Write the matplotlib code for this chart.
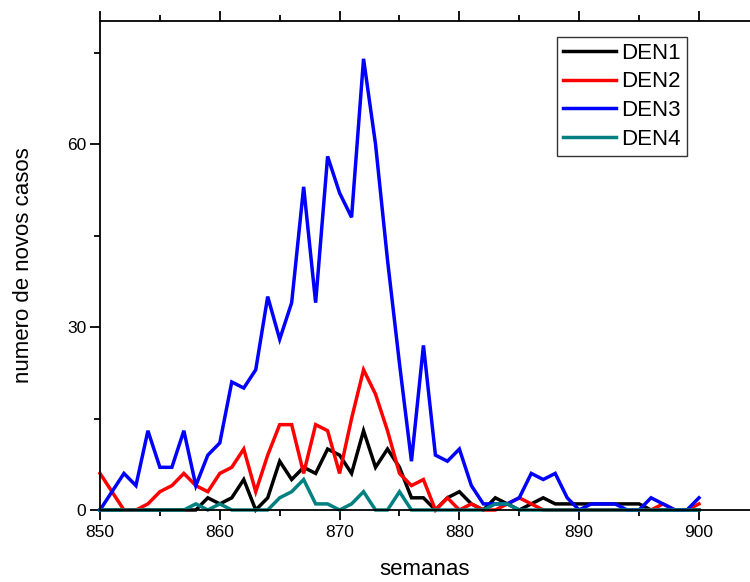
import matplotlib
matplotlib.use("Agg")
import matplotlib.pyplot as plt
from matplotlib.ticker import MultipleLocator

plt.rcParams['font.family'] = ['Liberation Sans', 'DejaVu Sans']

semanas = list(range(850, 901))

den1 = [0, 0, 0, 0, 0, 0, 0, 0, 0, 2,
        1, 2, 5, 0, 2, 8, 5, 7, 6, 10,
        9, 6, 13, 7, 10, 7, 2, 2, 0, 2,
        3, 1, 0, 2, 1, 0, 1, 2, 1, 1,
        1, 1, 1, 1, 1, 1, 0, 0, 0, 0,
        0]
den2 = [6, 3, 0, 0, 1, 3, 4, 6, 4, 3,
        6, 7, 10, 3, 9, 14, 14, 6, 14, 13,
        6, 15, 23, 19, 13, 6, 4, 5, 0, 2,
        0, 1, 0, 0, 1, 2, 1, 0, 0, 0,
        0, 0, 0, 0, 0, 0, 0, 1, 0, 0,
        1]
den3 = [0, 3, 6, 4, 13, 7, 7, 13, 4, 9,
        11, 21, 20, 23, 35, 28, 34, 53, 34, 58,
        52, 48, 74, 60, 41, 24, 8, 27, 9, 8,
        10, 4, 1, 1, 1, 2, 6, 5, 6, 2,
        0, 1, 1, 1, 0, 0, 2, 1, 0, 0,
        2]
den4 = [0, 0, 0, 0, 0, 0, 0, 0, 1, 0,
        1, 0, 0, 0, 0, 2, 3, 5, 1, 1,
        0, 1, 3, 0, 0, 3, 0, 0, 0, 0,
        0, 0, 0, 1, 1, 0, 0, 0, 0, 0,
        0, 0, 0, 0, 0, 0, 0, 0, 0, 0,
        0]

series = [("DEN1", den1, "#000000"),
          ("DEN2", den2, "#ff0000"),
          ("DEN3", den3, "#0000ff"),
          ("DEN4", den4, "#008080")]

fig = plt.figure(figsize=(7.5, 5.82), dpi=100)
ax = fig.add_axes([100/750, 72/582, 650/750, 489/582])

for name, vals, col in series:
    ax.plot(semanas, vals, color=col, lw=2.5, label=name, clip_on=False,
            solid_joinstyle='miter')

ax.set_xlim(850, 904.26)
ax.set_ylim(0, 80.2)

ax.spines['right'].set_visible(False)
for s in ['left', 'bottom', 'top']:
    ax.spines[s].set_linewidth(1.3)

ax.xaxis.set_major_locator(MultipleLocator(10))
ax.xaxis.set_minor_locator(MultipleLocator(5))
ax.yaxis.set_major_locator(MultipleLocator(30))
ax.yaxis.set_minor_locator(MultipleLocator(15))

ax.tick_params(axis='x', which='both', direction='out', top=True, bottom=True,
               labeltop=False, width=1.3)
ax.tick_params(axis='y', which='both', direction='out', left=True, right=False,
               width=1.3)
ax.tick_params(which='major', length=7, labelsize=12.5)
ax.tick_params(axis='y', which='major', pad=3)
ax.tick_params(which='minor', length=4)

ax.set_xlabel("semanas", fontsize=16, labelpad=14)
ax.set_ylabel("numero de novos casos", fontsize=16, labelpad=24)

leg = ax.legend(loc='upper left', bbox_to_anchor=(0.703, 0.967), fontsize=16,
                frameon=True, fancybox=False, framealpha=1, edgecolor='#333333',
                handlelength=2.4, handletextpad=0.25, borderpad=0.25,
                labelspacing=0.35, borderaxespad=0)
leg.get_frame().set_linewidth(1.0)

fig.savefig("out.png", dpi=100)
